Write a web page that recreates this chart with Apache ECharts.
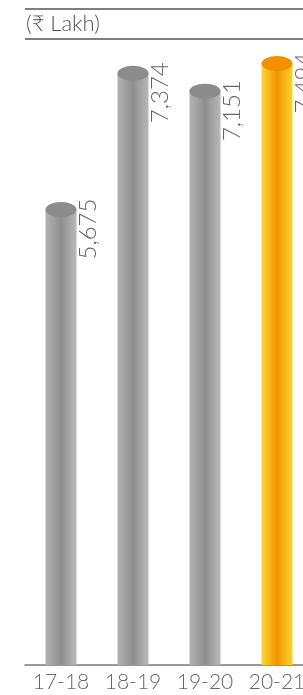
<!DOCTYPE html>
<html>
<head>
<meta charset="utf-8">
<script src="https://cdn.jsdelivr.net/npm/echarts@6/dist/echarts.min.js"></script>
<style>
  html, body { margin: 0; padding: 0; background: #fff; }
  #chart { width: 303px; height: 695px; }
</style>
</head>
<body>
<div id="chart"></div>
<script>
// Data
const years = ['17-18', '18-19', '19-20', '20-21'];
const amounts = [5675, 7374, 7151, 7494];
const highlightIndex = 3;

const chart = echarts.init(document.getElementById('chart'));

const grayBody = new echarts.graphic.LinearGradient(0, 0, 1, 0, [
  { offset: 0, color: '#b4b4b4' },
  { offset: 0.5, color: '#8e8e8e' },
  { offset: 1, color: '#b8b8b8' }
]);
const orangeBody = new echarts.graphic.LinearGradient(0, 0, 1, 0, [
  { offset: 0, color: '#fdd835' },
  { offset: 0.5, color: '#f29400' },
  { offset: 1, color: '#fdd22e' }
]);

const options = {
  animation: false,
  grid: { left: 25, width: 288, top: 23, bottom: 30, outerBoundsMode: 'none' },
  graphic: [
    { type: 'line', shape: { x1: 25, y1: 9, x2: 303, y2: 9 }, style: { stroke: '#555', lineWidth: 1.5 } },
    { type: 'line', shape: { x1: 25, y1: 39, x2: 303, y2: 39 }, style: { stroke: '#555', lineWidth: 1.5 } },
    {
      type: 'text', left: 26, top: 13,
      style: { text: '(₹ Lakh)', fill: '#555', font: '300 22px Lato' }
    }
  ],
  xAxis: {
    type: 'category',
    data: years,
    axisTick: { show: false },
    axisLine: { lineStyle: { color: '#777', width: 1.5 } },
    axisLabel: { interval: 0, color: '#666', fontSize: 21, fontFamily: 'Lato', fontWeight: 300, margin: 7 }
  },
  yAxis: {
    type: 'value',
    min: 0,
    max: 8000,
    show: false
  },
  series: [
    {
      type: 'bar',
      barWidth: 31,
      data: amounts.map((v, i) => ({
        value: v,
        itemStyle: { color: i === highlightIndex ? orangeBody : grayBody }
      })),
      label: {
        show: true,
        position: ['100%', -8],
        rotate: 90,
        align: 'right',
        verticalAlign: 'top',
        distance: 0,
        offset: [3, 0],
        color: '#666',
        fontSize: 24,
        fontFamily: 'Lato',
        fontWeight: 300,
        formatter: (p) => p.value.toLocaleString('en-IN')
      },
      z: 2
    },
    {
      type: 'pictorialBar',
      symbol: 'circle',
      symbolSize: [31, 15],
      symbolPosition: 'end',
      symbolOffset: [0, '-50%'],
      data: amounts.map((v, i) => ({
        value: v,
        itemStyle: { color: i === highlightIndex ? '#f29000' : '#8c8c8c' }
      })),
      z: 3
    }
  ]
};

chart.setOption(options);
</script>
</body>
</html>
